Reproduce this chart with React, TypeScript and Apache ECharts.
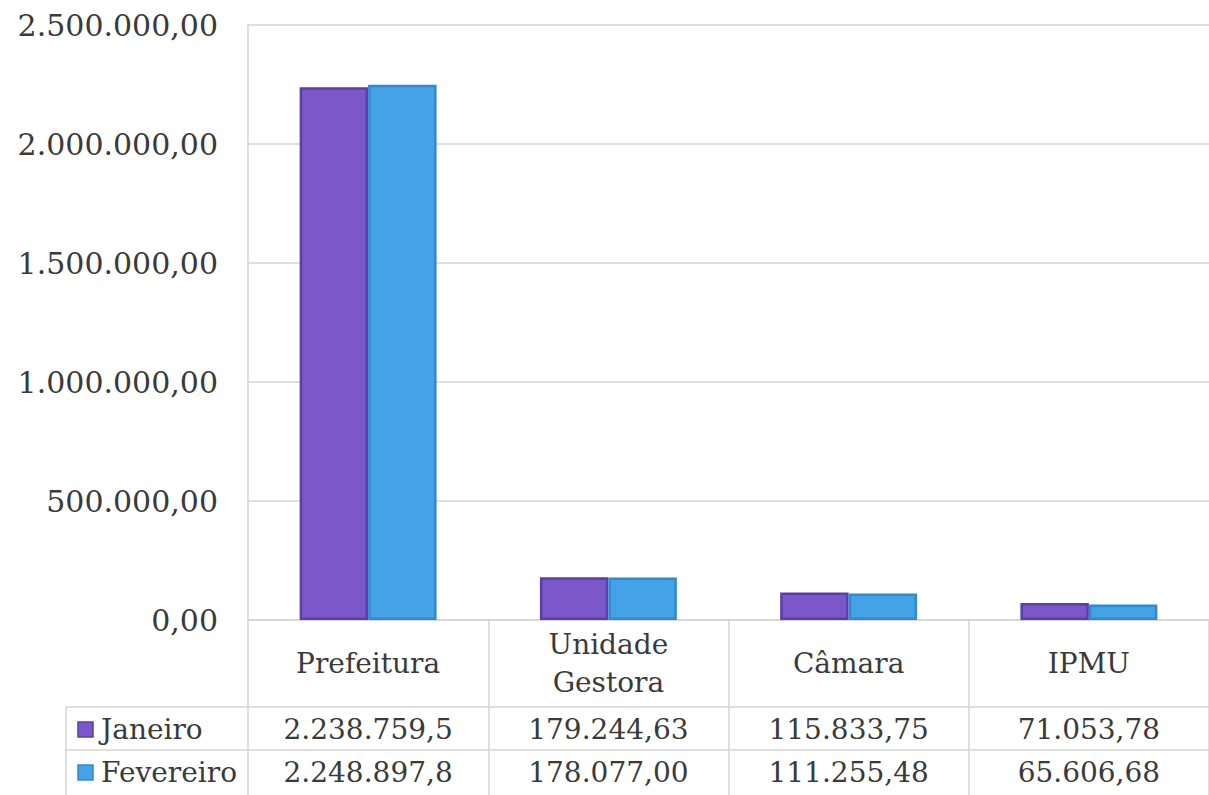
import React, { useEffect, useRef } from "react";
import * as echarts from "echarts";

const categories = ["Prefeitura", "Unidade\nGestora", "Câmara", "IPMU"];
const seriesNames = ["Janeiro", "Fevereiro"];
const janeiro = [2238759.5, 179244.63, 115833.75, 71053.78];
const fevereiro = [2248897.8, 178077.0, 111255.48, 65606.68];
const janeiroText = ["2.238.759,5", "179.244,63", "115.833,75", "71.053,78"];
const fevereiroText = ["2.248.897,8", "178.077,00", "111.255,48", "65.606,68"];
const yTicks = [0, 500000, 1000000, 1500000, 2000000, 2500000];

const FONT = "'DejaVu Serif', Georgia, serif";
const TEXT = "#3a3a3a";
const LINE = "#d4d4d4";
const fills = ["#7b57c9", "#45a2e6"];
const borders = ["#5b3fa6", "#2f8ad0"];

function fmt(v: number): string {
  const [i, d] = v.toFixed(2).split(".");
  return i.replace(/\B(?=(\d{3})+(?!\d))/g, ".") + "," + d;
}

export default function App() {
  const ref = useRef<HTMLDivElement>(null);
  useEffect(() => {
    if (!ref.current) return;
    const chart = echarts.init(ref.current, null, { renderer: "svg" });
    const gridLeft = 248;
    const gridTop = 25;
    const gridBottomY = 620;
    const W = 1209;
    const H = 795;
    chart.setOption({
      animation: false,
      backgroundColor: "#ffffff",
      grid: { left: gridLeft, top: gridTop, right: 0, bottom: H - gridBottomY, containLabel: false },
      xAxis: {
        type: "category",
        data: categories,
        axisLine: { show: true, lineStyle: { color: LINE, width: 1.5 } },
        axisTick: { show: true, length: 176, lineStyle: { color: LINE, width: 1.5 } },
        axisLabel: {
          color: TEXT,
          fontFamily: FONT,
          fontSize: 28,
          lineHeight: 38,
          margin: 43,
          verticalAlign: "middle",
          interval: 0,
        },
      },
      yAxis: {
        type: "value",
        min: yTicks[0],
        max: yTicks[yTicks.length - 1],
        interval: yTicks[1] - yTicks[0],
        axisLine: { show: true, lineStyle: { color: LINE, width: 1.5 } },
        axisTick: { show: false },
        splitLine: { show: true, lineStyle: { color: LINE, width: 1.5 } },
        axisLabel: {
          color: TEXT,
          fontFamily: FONT,
          fontSize: 30,
          margin: 30,
          formatter: (v: number) => fmt(v),
        },
      },
      series: [janeiro, fevereiro].map((d, i) => ({
        name: seriesNames[i],
        type: "bar",
        data: d,
        barGap: "0%",
        barCategoryGap: "43%",
        itemStyle: { color: fills[i], borderColor: borders[i], borderWidth: 2.5 },
      })),
    });

    const rowTops = [707, 750, 793];
    const tableLeft = 66;
    const graphics: any[] = [];
    [rowTops[0], rowTops[1]].forEach((y) => {
      graphics.push({
        type: "line",
        shape: { x1: tableLeft, y1: y, x2: W, y2: y },
        style: { stroke: LINE, lineWidth: 1.5 },
        silent: true,
      });
    });
    graphics.push({
      type: "line",
      shape: { x1: tableLeft, y1: rowTops[0], x2: tableLeft, y2: H },
      style: { stroke: LINE, lineWidth: 1.5 },
    });
    const rowsText = [janeiroText, fevereiroText];
    rowsText.forEach((row, r) => {
      const cy = (rowTops[r] + rowTops[r + 1]) / 2 + 1;
      graphics.push({
        type: "rect",
        shape: { x: 78, y: cy - 7.5, width: 15, height: 15 },
        style: { fill: fills[r], stroke: borders[r], lineWidth: 1.5 },
      });
      graphics.push({
        type: "text",
        x: 101,
        y: cy,
        style: {
          text: seriesNames[r],
          fill: TEXT,
          font: `28px ${FONT}`,
          verticalAlign: "middle",
          align: "left",
        },
      });
      row.forEach((t, c) => {
        const px = chart.convertToPixel({ xAxisIndex: 0 }, c) as number;
        graphics.push({
          type: "text",
          x: px,
          y: cy,
          style: {
            text: t,
            fill: TEXT,
            font: `28px ${FONT}`,
            verticalAlign: "middle",
            align: "center",
          },
        });
      });
    });
    chart.setOption({ graphic: graphics });
    return () => chart.dispose();
  }, []);
  return (
    <div
      ref={ref}
      style={{ position: "fixed", left: 0, top: 0, width: 1209, height: 795, background: "#fff" }}
    />
  );
}
